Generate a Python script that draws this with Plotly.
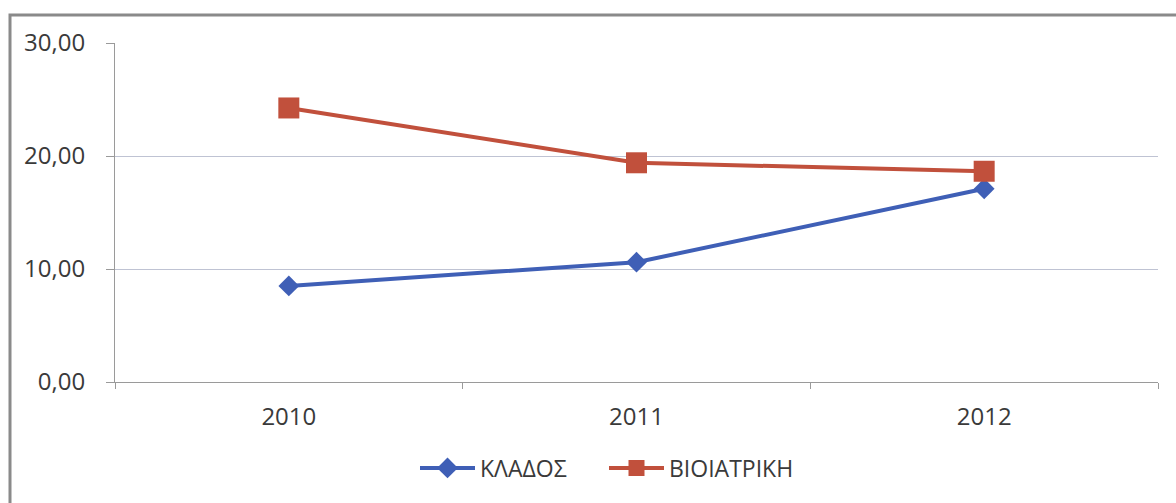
import plotly.graph_objects as go

# Years on the category axis
years = ["2010", "2011", "2012"]

# Series values
klados = [8.5, 10.6, 17.1]
bioiatriki = [24.25, 19.4, 18.65]

# Axis tick values
y_ticks = [0, 10, 20, 30]

BLUE = "#3F5FB6"
RED = "#C1503C"
FONT = "Open Sans, Lato, DejaVu Sans, sans-serif"

fig = go.Figure()

fig.add_trace(go.Scatter(
    x=years, y=klados, name="ΚΛΑΔΟΣ", mode="lines+markers",
    line=dict(color=BLUE, width=4),
    marker=dict(symbol="diamond", size=16, color=BLUE),
))
fig.add_trace(go.Scatter(
    x=years, y=bioiatriki, name="ΒΙΟΙΑΤΡΙΚΗ", mode="lines+markers",
    line=dict(color=RED, width=4),
    marker=dict(symbol="square", size=21, color=RED),
))

W, H = 1176, 503
ml, mr, mt, mb = 115, 18, 43, 121
pw = W - ml - mr
ph = H - mt - mb

def px(x):
    return (x - ml) / pw

def py(y):
    return (H - mb - y) / ph

# Outer chart frame
fig.add_shape(
    type="rect", xref="paper", yref="paper",
    x0=px(10), x1=px(1185), y0=py(512), y1=py(15),
    line=dict(color="#8A8A8A", width=3), fillcolor="rgba(0,0,0,0)",
    layer="below",
)

fig.update_layout(
    width=W, height=H,
    margin=dict(l=ml, r=mr, t=mt, b=mb, pad=0),
    paper_bgcolor="white", plot_bgcolor="white",
    separators=",.",
    font=dict(family=FONT, size=24, color="#3A3A3A"),
    showlegend=True,
    legend=dict(
        orientation="h", x=px(415), xanchor="left", y=py(468), yanchor="middle",
        font=dict(family=FONT, size=23, color="#3A3A3A"),
        itemwidth=55, entrywidth=119, entrywidthmode="pixels",
        bgcolor="rgba(0,0,0,0)", traceorder="normal",
    ),
    xaxis=dict(
        type="category", range=[-0.5, 2.5],
        showgrid=False, showline=True, linecolor="#9A9A9A", linewidth=1,
        ticks="outside", tickson="boundaries", ticklen=6, tickcolor="#9A9A9A",
        ticklabelstandoff=13, tickfont=dict(family=FONT, size=24, color="#3A3A3A"),
        zeroline=False,
    ),
    yaxis=dict(
        range=[0, 30], tickvals=y_ticks, tickformat=".2f",
        showgrid=True, gridcolor="#BFC3D3", gridwidth=1,
        showline=True, linecolor="#9A9A9A", linewidth=1,
        ticks="outside", ticklen=8, tickcolor="#9A9A9A",
        ticklabelstandoff=16, tickfont=dict(family=FONT, size=24, color="#3A3A3A"),
        zeroline=False,
    ),
)

fig.write_html("out.html")
